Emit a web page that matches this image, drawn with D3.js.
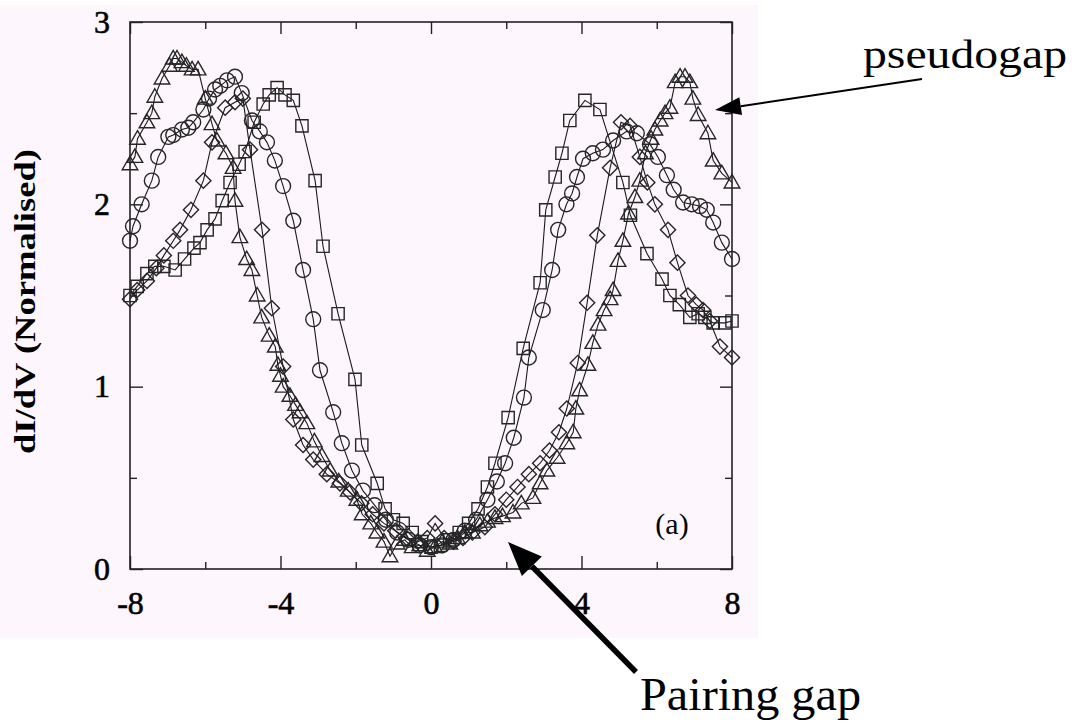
<!DOCTYPE html>
<html>
<head>
<meta charset="utf-8">
<script src="https://cdn.jsdelivr.net/npm/d3@7"></script>
<style>
  html, body { margin: 0; padding: 0; background: #ffffff; }
  svg { display: block; }
</style>
</head>
<body>
<svg id="chart" width="1079" height="723"></svg>
<script>
// ---- data ----
const xTickValues = [-8, -4, 0, 4, 8];
const xMinorTicks = [-6, -2, 2, 6];
const yTickValues = [0, 1, 2, 3];
const yMinorTicks = [0.5, 1.5, 2.5];
const yAxisTitle = "dI/dV (Normalised)";
const panelLabel = "(a)";
const annotationTop = "pseudogap";
const annotationBottom = "Pairing gap";

const triangleSeries = [
  [-8.0, 2.22], [-7.87, 2.26], [-7.8, 2.36], [-7.55, 2.45], [-7.42, 2.50], [-7.34, 2.59],
  [-7.15, 2.69], [-6.95, 2.76], [-6.85, 2.80], [-6.75, 2.80], [-6.62, 2.78], [-6.5, 2.76],
  [-6.35, 2.74], [-6.19, 2.74], [-6.0, 2.58], [-5.82, 2.44], [-5.69, 2.35], [-5.45, 2.28],
  [-5.26, 2.20], [-5.21, 2.02], [-5.08, 1.82], [-4.9, 1.70], [-4.76, 1.64], [-4.62, 1.50],
  [-4.5, 1.38], [-4.3, 1.28], [-4.14, 1.22], [-4.07, 1.12], [-4.0, 1.06], [-3.93, 1.00],
  [-3.75, 0.95], [-3.6, 0.90], [-3.48, 0.86], [-3.3, 0.80], [-3.1, 0.70], [-2.9, 0.62],
  [-2.68, 0.54], [-2.45, 0.48], [-2.2, 0.43], [-1.97, 0.38], [-1.83, 0.30], [-1.6, 0.25],
  [-1.44, 0.20], [-1.25, 0.15], [-1.09, 0.07], [-0.9, 0.14], [-0.7, 0.16], [-0.5, 0.12],
  [-0.3, 0.13], [-0.1, 0.10], [0.1, 0.12], [0.3, 0.15], [0.5, 0.14], [0.7, 0.17],
  [0.9, 0.20], [1.1, 0.20], [1.3, 0.24], [1.5, 0.26], [1.7, 0.28], [1.9, 0.29],
  [2.18, 0.31], [2.4, 0.36], [2.71, 0.39], [2.9, 0.47], [3.08, 0.54], [3.35, 0.61],
  [3.61, 0.69], [3.78, 0.75], [3.85, 0.88], [3.95, 0.98], [4.17, 1.12], [4.3, 1.24],
  [4.44, 1.34], [4.6, 1.42], [4.76, 1.48], [4.84, 1.53], [4.97, 1.69], [5.1, 1.80],
  [5.25, 1.95], [5.42, 2.04], [5.55, 2.13], [5.7, 2.28], [5.85, 2.36], [5.95, 2.41],
  [6.09, 2.46], [6.22, 2.50], [6.35, 2.53], [6.49, 2.67], [6.62, 2.70], [6.75, 2.70],
  [6.88, 2.67], [6.96, 2.58], [7.1, 2.49], [7.36, 2.39], [7.5, 2.24], [7.73, 2.17],
  [8.0, 2.12]
];

const circleSeries = [
  [-8.0, 1.80], [-7.92, 1.88], [-7.69, 2.00], [-7.42, 2.13], [-7.25, 2.26], [-6.98, 2.37],
  [-6.85, 2.38], [-6.62, 2.41], [-6.45, 2.42], [-6.32, 2.45], [-6.05, 2.52], [-5.9, 2.58],
  [-5.74, 2.63], [-5.6, 2.65], [-5.42, 2.68], [-5.21, 2.70], [-5.03, 2.61], [-4.76, 2.46],
  [-4.55, 2.40], [-4.36, 2.34], [-4.15, 2.24], [-3.93, 2.10], [-3.66, 1.91], [-3.4, 1.64],
  [-3.13, 1.37], [-2.95, 1.09], [-2.6, 0.86], [-2.37, 0.69], [-2.1, 0.54], [-1.81, 0.43],
  [-1.5, 0.35], [-1.2, 0.27], [-0.9, 0.20], [-0.6, 0.16], [-0.3, 0.13], [0.0, 0.12],
  [0.3, 0.13], [0.6, 0.16], [0.9, 0.21], [1.2, 0.27], [1.5, 0.38], [1.75, 0.48],
  [1.97, 0.58], [2.2, 0.72], [2.47, 0.94], [2.6, 1.16], [2.97, 1.42], [3.22, 1.64],
  [3.38, 1.86], [3.6, 2.00], [3.75, 2.06], [3.88, 2.15], [4.04, 2.25], [4.3, 2.28],
  [4.57, 2.30], [4.84, 2.35], [5.2, 2.40], [5.47, 2.39], [5.82, 2.33], [6.03, 2.26],
  [6.27, 2.16], [6.45, 2.08], [6.7, 2.01], [6.93, 2.00], [7.15, 1.99], [7.33, 1.97],
  [7.5, 1.90], [7.73, 1.79], [8.0, 1.70]
];

const diamondSeries = [
  [-8.0, 1.48], [-7.81, 1.53], [-7.55, 1.58], [-7.3, 1.65], [-7.1, 1.72], [-6.85, 1.80],
  [-6.67, 1.86], [-6.38, 1.97], [-6.05, 2.13], [-5.82, 2.34], [-5.47, 2.53], [-5.21, 2.56],
  [-5.0, 2.58], [-4.81, 2.30], [-4.49, 1.86], [-4.23, 1.43], [-3.93, 1.11], [-3.66, 0.82],
  [-3.4, 0.68], [-3.13, 0.60], [-2.77, 0.52], [-2.42, 0.47], [-2.15, 0.42], [-1.85, 0.36],
  [-1.55, 0.30], [-1.25, 0.25], [-0.95, 0.21], [-0.65, 0.17], [-0.35, 0.15], [-0.1, 0.17],
  [0.11, 0.25], [0.35, 0.17], [0.6, 0.15], [0.85, 0.17], [1.1, 0.20], [1.43, 0.23],
  [1.7, 0.30], [2.0, 0.38], [2.3, 0.45], [2.6, 0.52], [2.9, 0.58], [3.15, 0.65],
  [3.4, 0.75], [3.61, 0.88], [3.9, 1.13], [4.15, 1.46], [4.42, 1.83], [4.76, 2.20],
  [5.05, 2.45], [5.29, 2.43], [5.55, 2.26], [5.75, 2.12], [5.95, 2.00], [6.3, 1.86],
  [6.55, 1.68], [6.83, 1.50], [7.05, 1.45], [7.23, 1.42], [7.41, 1.36], [7.68, 1.22],
  [8.0, 1.16]
];

const squareSeries = [
  [-8.0, 1.50], [-7.81, 1.55], [-7.55, 1.62], [-7.34, 1.66], [-7.1, 1.66], [-6.8, 1.64],
  [-6.55, 1.70], [-6.3, 1.76], [-6.14, 1.79], [-5.95, 1.86], [-5.74, 1.92], [-5.55, 2.02],
  [-5.34, 2.12], [-5.1, 2.22], [-4.94, 2.29], [-4.7, 2.45], [-4.46, 2.55], [-4.3, 2.60],
  [-4.09, 2.64], [-3.88, 2.60], [-3.66, 2.57], [-3.43, 2.43], [-3.08, 2.13], [-2.87, 1.77],
  [-2.47, 1.40], [-2.02, 1.04], [-1.84, 0.68], [-1.43, 0.47], [-1.22, 0.33], [-1.0, 0.27],
  [-0.74, 0.25], [-0.5, 0.20], [-0.25, 0.15], [0.0, 0.12], [0.25, 0.13], [0.5, 0.16],
  [0.75, 0.20], [1.0, 0.25], [1.25, 0.33], [1.5, 0.45], [1.7, 0.58], [2.05, 0.83],
  [2.45, 1.21], [2.9, 1.57], [3.05, 1.97], [3.3, 2.15], [3.48, 2.28], [3.69, 2.46],
  [4.09, 2.57], [4.49, 2.52], [5.1, 2.12], [5.3, 1.94], [5.74, 1.73], [6.14, 1.59],
  [6.35, 1.50], [6.6, 1.45], [6.88, 1.38], [7.1, 1.40], [7.28, 1.38], [7.5, 1.35],
  [7.81, 1.35], [8.0, 1.36]
];

// ---- layout ----
const FONT = "'Liberation Serif', 'Times New Roman', serif";
const svg = d3.select("#chart");
const plot = { left: 130, right: 732, top: 22, bottom: 569 };

const x = d3.scaleLinear().domain([-8, 8]).range([plot.left, plot.right]);
const y = d3.scaleLinear().domain([0, 3]).range([plot.bottom, plot.top]);

// pink panel background
svg.append("rect").attr("x", 0).attr("y", 5).attr("width", 758).attr("height", 633)
  .attr("fill", "#fdf6fd");

// frame
svg.append("rect").attr("x", plot.left).attr("y", plot.top)
  .attr("width", plot.right - plot.left).attr("height", plot.bottom - plot.top)
  .attr("fill", "none").attr("stroke", "#222").attr("stroke-width", 1.6);

function styleAxis(g) {
  g.select(".domain").remove();
  g.attr("font-family", null).attr("font-size", null);
  g.selectAll(".tick line").attr("stroke", "#222").attr("stroke-width", 1.4);
  g.selectAll(".tick text")
    .style("font-family", FONT).style("font-size", "32px")
    .style("stroke", "#000").style("stroke-width", "0.6px")
    .attr("fill", "#000");
}

// bottom axis with labels
svg.append("g").attr("transform", `translate(0,${plot.bottom})`)
  .call(d3.axisBottom(x).tickValues(xTickValues).tickSize(-13).tickPadding(22)
    .tickFormat(d => String(d)))
  .call(styleAxis);
svg.append("g").attr("transform", `translate(0,${plot.bottom})`)
  .call(d3.axisBottom(x).tickValues(xMinorTicks).tickSize(-7).tickFormat(""))
  .call(styleAxis);
// top axis ticks
svg.append("g").attr("transform", `translate(0,${plot.top})`)
  .call(d3.axisTop(x).tickValues(xTickValues).tickSize(-12).tickFormat(""))
  .call(styleAxis);
svg.append("g").attr("transform", `translate(0,${plot.top})`)
  .call(d3.axisTop(x).tickValues(xMinorTicks).tickSize(-7).tickFormat(""))
  .call(styleAxis);
// left axis
svg.append("g").attr("transform", `translate(${plot.left},0)`)
  .call(d3.axisLeft(y).tickValues(yTickValues).tickSize(-13).tickPadding(20).tickFormat(d => String(d)))
  .call(styleAxis);
svg.append("g").attr("transform", `translate(${plot.left},0)`)
  .call(d3.axisLeft(y).tickValues(yMinorTicks).tickSize(-7).tickFormat(""))
  .call(styleAxis);
// right axis ticks
svg.append("g").attr("transform", `translate(${plot.right},0)`)
  .call(d3.axisRight(y).tickValues(yTickValues).tickSize(-12).tickFormat(""))
  .call(styleAxis);
svg.append("g").attr("transform", `translate(${plot.right},0)`)
  .call(d3.axisRight(y).tickValues(yMinorTicks).tickSize(-7).tickFormat(""))
  .call(styleAxis);

// ---- series ----
const line = d3.line().x(d => x(d[0])).y(d => y(d[1]));
const seriesDefs = [
  { data: squareSeries, symbol: d3.symbolSquare, size: 150, rotate: 0, dy: 0 },
  { data: circleSeries, symbol: d3.symbolCircle, size: 175, rotate: 0, dy: 0 },
  { data: diamondSeries, symbol: d3.symbolSquare, size: 115, rotate: 45, dy: 0 },
  { data: triangleSeries, symbol: d3.symbolTriangle, size: 105, rotate: 0, dy: 1 }
];

const gSeries = svg.append("g");
seriesDefs.forEach(s => {
  gSeries.append("path").datum(s.data).attr("d", line)
    .attr("fill", "none").attr("stroke", "#1a1a1a").attr("stroke-width", 1.1);
  const sym = d3.symbol().type(s.symbol).size(s.size);
  gSeries.append("g").selectAll("path").data(s.data).join("path")
    .attr("transform", d => `translate(${x(d[0])},${y(d[1]) + s.dy}) rotate(${s.rotate})`)
    .attr("d", sym())
    .attr("fill", "none").attr("stroke", "#262626").attr("stroke-width", 1.4);
});

// ---- texts ----
svg.append("text")
  .attr("transform", `translate(28,${(148 + 455) / 2}) rotate(-90)`)
  .attr("text-anchor", "middle").attr("dominant-baseline", "middle")
  .style("font-family", FONT).style("font-size", "29px").style("font-weight", "bold")
  .attr("textLength", 305).attr("lengthAdjust", "spacingAndGlyphs")
  .text(yAxisTitle);

svg.append("text").attr("x", 672).attr("y", 534).attr("text-anchor", "middle")
  .style("font-family", FONT).style("font-size", "30px")
  .text(panelLabel);

svg.append("text").attr("x", 863).attr("y", 68)
  .style("font-family", FONT).style("font-size", "41px")
  .attr("textLength", 204).attr("lengthAdjust", "spacingAndGlyphs")
  .text(annotationTop);

svg.append("text").attr("x", 640).attr("y", 710)
  .style("font-family", FONT).style("font-size", "46px")
  .attr("textLength", 221).attr("lengthAdjust", "spacingAndGlyphs")
  .text(annotationBottom);

// ---- arrows ----
function arrow(x1, y1, x2, y2, width, headLen, headHalf) {
  const ang = Math.atan2(y2 - y1, x2 - x1);
  const bx = x2 - headLen * Math.cos(ang), by = y2 - headLen * Math.sin(ang);
  svg.append("line").attr("x1", x1).attr("y1", y1).attr("x2", bx).attr("y2", by)
    .attr("stroke", "#000").attr("stroke-width", width);
  const px = -Math.sin(ang) * headHalf, py = Math.cos(ang) * headHalf;
  svg.append("path")
    .attr("d", `M${x2},${y2} L${bx + px},${by + py} L${bx - px},${by - py} Z`)
    .attr("fill", "#000");
}
arrow(922, 79, 715, 110, 2, 26, 9);
arrow(636, 672, 508, 542, 5.5, 34, 14);
</script>
</body>
</html>
